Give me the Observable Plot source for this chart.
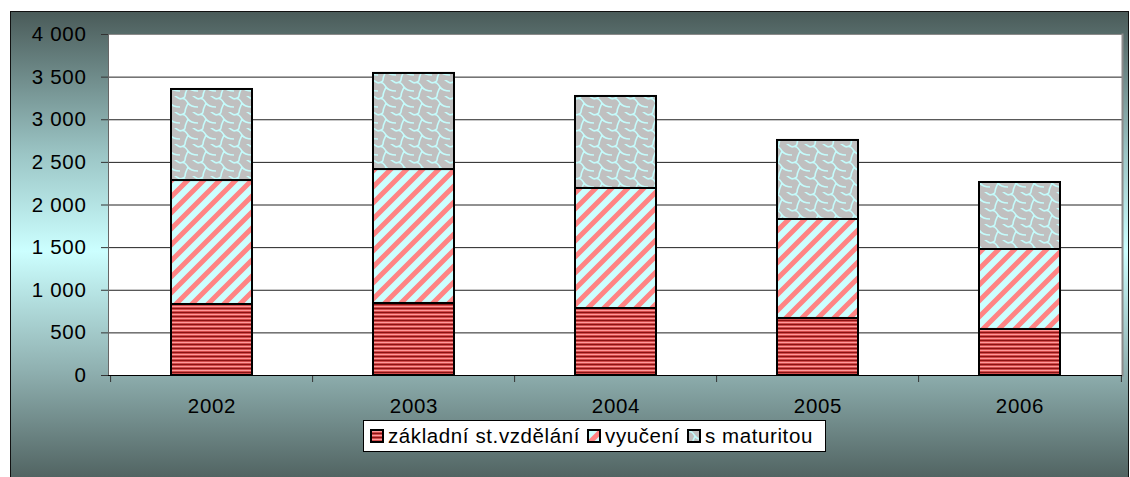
<!DOCTYPE html>
<html>
<head>
<meta charset="utf-8">
<script src="https://cdn.jsdelivr.net/npm/d3@7"></script>
<script src="https://cdn.jsdelivr.net/npm/@observablehq/plot@0.6"></script>
<style>
  html, body { margin: 0; padding: 0; width: 1130px; height: 477px; overflow: hidden; background: #fff; }
  #frame { position: absolute; left: 10px; top: 11px; width: 1119px; height: 480px; box-sizing: border-box;
    border: 1.5px solid #111;
    background: linear-gradient(to bottom, #4a5b59 0%, #9cc6c6 30%, #ccffff 50%, #8fb0b0 75%, #4a5b59 100%); }
  #chart { position: absolute; left: 0; top: 0; }
  #legend { position: absolute; left: 363px; top: 420px; width: 463px; height: 32px; box-sizing: border-box;
    background: #fff; border: 1px solid #000; display: flex; align-items: center; padding-left: 6px;
    font-family: "Liberation Sans", Arial, sans-serif; font-size: 20.5px; letter-spacing: 0.6px; color: #000; white-space: nowrap; }
  .item { display: flex; align-items: center; margin-right: 7px; }
  .sw { width: 14px; height: 14px; margin-right: 4px; }
</style>
</head>
<body>
<svg width="0" height="0" style="position:absolute">
  <defs>
    <pattern id="pZak" width="8" height="4" patternUnits="userSpaceOnUse">
      <rect width="8" height="4" fill="#d24a4a"/>
      <rect y="0" width="8" height="1" fill="#8b1414"/>
      <rect y="2" width="8" height="1" fill="#ff9a9a"/>
    </pattern>
    <pattern id="pVyu" width="16" height="16" patternUnits="userSpaceOnUse">
      <rect width="16" height="16" fill="#ccffff"/>
      <path d="M-4,4 L4,-4 M0,16 L16,0 M12,20 L20,12" stroke="#ff8484" stroke-width="5"/>
    </pattern>
    <pattern id="pMat" width="18" height="16" patternUnits="userSpaceOnUse">
      <rect width="18" height="16" fill="#c0c0c0"/>
      <path d="M0,3 C4,1 6,4 8,7 C10,10 14,11 18,11 M8,7 C7,10 5,12 5,16 M5,0 C5,1 4,2 0,3 M18,3 C14,1 12,-1 11,-2 M-1,11 C-2,12 -3,14 -3,16"
        fill="none" stroke="#c4fbfb" stroke-width="1.6"/>
    </pattern>
  </defs>
</svg>
<div id="frame"></div>
<div id="chart"></div>
<div id="legend">
  <div class="item"><svg class="sw"><rect x="1" y="1" width="12" height="12" fill="url(#pZak)" stroke="#000" stroke-width="2"/></svg>základní st.vzdělání</div>
  <div class="item"><svg class="sw"><rect x="1" y="1" width="12" height="12" fill="url(#pVyu)" stroke="#000" stroke-width="2"/></svg>vyučení</div>
  <div class="item"><svg class="sw"><rect x="1" y="1" width="12" height="12" fill="url(#pMat)" stroke="#000" stroke-width="2"/></svg>s maturitou</div>
</div>
<script>
const years = ["2002", "2003", "2004", "2005", "2006"];
const seriesNames = ["základní st.vzdělání", "vyučení", "s maturitou"];
const zakladni = [833, 845, 786, 669, 540];
const vyuceni = [1454, 1571, 1408, 1161, 938];
const maturita = [1068, 1127, 1079, 927, 786];
const yTicks = [0, 500, 1000, 1500, 2000, 2500, 3000, 3500, 4000];
const gridTicks = [500, 1000, 1500, 2000, 2500, 3000, 3500];
const patterns = ["url(#pZak)", "url(#pVyu)", "url(#pMat)"];

const seriesValues = [zakladni, vyuceni, maturita];
const rows = [];
seriesNames.forEach((s, si) => years.forEach((y, yi) => rows.push({year: y, series: s, value: seriesValues[si][yi]})));

const fmt = d => d3.format(",")(d).replace(/,/g, " ");
const W = 1130, H = 477, ML = 108, MR = 8;
const step = (W - ML - MR) / years.length;

const chart = Plot.plot({
  width: W, height: H,
  marginLeft: ML, marginRight: MR, marginTop: 34, marginBottom: 102,
  style: {background: "transparent", fontFamily: "'Liberation Sans', Arial, sans-serif", fontSize: "20.5px", letterSpacing: "0.7px", color: "#000"},
  x: {domain: years, paddingInner: 0.6, paddingOuter: 0.3, label: null},
  y: {domain: [0, 4000], label: null},
  color: {domain: seriesNames, range: patterns},
  marks: [
    Plot.frame({fill: "#fff", stroke: "#8a8a8a", strokeWidth: 1}),
    Plot.gridY(gridTicks, {stroke: "#222", strokeOpacity: 1}),
    Plot.frame({anchor: "left", stroke: "#666"}),
    Plot.frame({anchor: "right", stroke: "#8a8a8a", strokeWidth: 2}),
    Plot.axisY(yTicks, {tickSize: 7, tickPadding: 15, tickFormat: fmt, stroke: "#333", fill: "#000", label: null}),
    Plot.axisX({tickSize: 0, tickPadding: 23, fill: "#000", label: null}),
    Plot.ruleX(years, {x: d => d, y1: 0, y2: 0, dx: -step / 2, insetBottom: -7, stroke: "#333"}),
    Plot.ruleX(years.slice(-1), {x: d => d, y1: 0, y2: 0, dx: step / 2, insetBottom: -7, stroke: "#333"}),
    Plot.barY(rows, {x: "year", y: "value", fill: "series", stroke: "#000", strokeWidth: 2}),
    Plot.ruleY([0], {stroke: "#000"})
  ]
});
document.getElementById("chart").appendChild(chart);
</script>
</body>
</html>
